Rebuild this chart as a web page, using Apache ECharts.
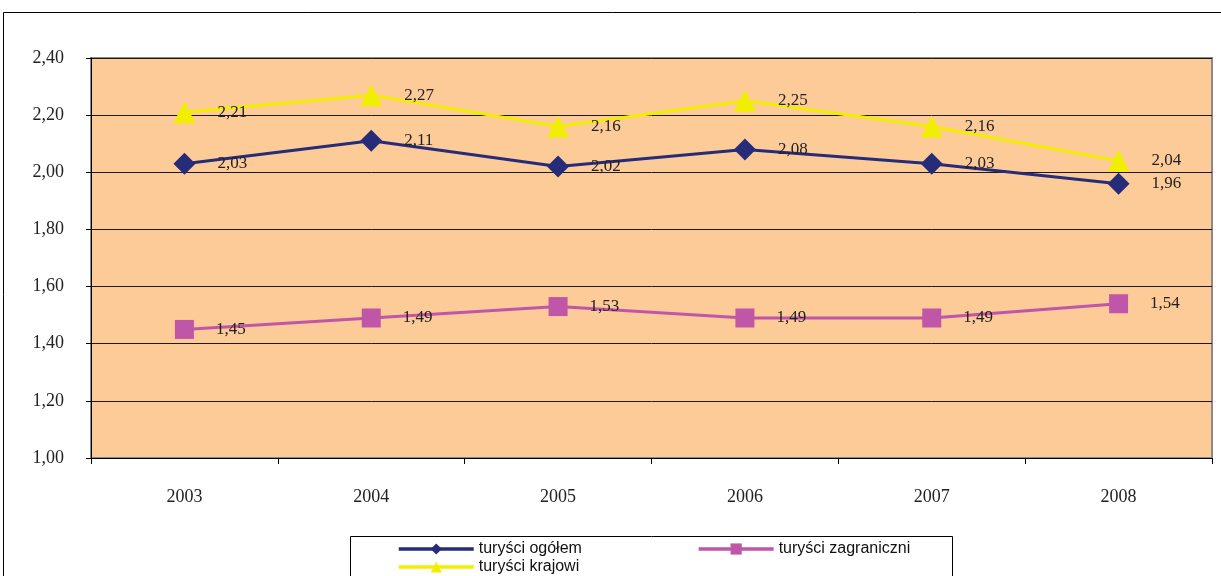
<!DOCTYPE html>
<html>
<head>
<meta charset="utf-8">
<script src="https://cdn.jsdelivr.net/npm/echarts@6/dist/echarts.min.js"></script>
<style>
  html, body { margin: 0; padding: 0; background: #fff; }
  #chart { width: 1221px; height: 576px; }
</style>
</head>
<body>
<div id="chart"></div>
<script>
// dane z wykresu
var years = ['2003', '2004', '2005', '2006', '2007', '2008'];
var ogolem = [2.03, 2.11, 2.02, 2.08, 2.03, 1.96];
var zagraniczni = [1.45, 1.49, 1.53, 1.49, 1.49, 1.54];
var krajowi = [2.21, 2.27, 2.16, 2.25, 2.16, 2.04];
var seriesNames = ['turyści ogółem', 'turyści zagraniczni', 'turyści krajowi'];

function fmt(v) {
    return v.toFixed(2).replace('.', ',');
}

var labelStyle = {
    show: true,
    position: 'right',
    distance: 22,
    fontFamily: 'Liberation Serif',
    fontSize: 17,
    color: '#222',
    formatter: function (p) { return fmt(p.value); }
};

var legendText = { fontFamily: 'Liberation Sans', fontSize: 16, color: '#111' };

var chart = echarts.init(document.getElementById('chart'));
chart.setOption({
    animation: false,
    backgroundColor: '#fff',
    graphic: [
        { type: 'rect', shape: { x: 3.5, y: 12.5, width: 1240, height: 600 },
          style: { fill: 'none', stroke: '#000', lineWidth: 1 }, z: -1 },
        { type: 'rect', shape: { x: 350.5, y: 536.5, width: 602, height: 60 },
          style: { fill: '#fff', stroke: '#000', lineWidth: 1 }, z: 0 }
    ],
    grid: {
        left: 91, right: 9, top: 58, bottom: 118,
        show: true,
        backgroundColor: '#FDCB98',
        borderColor: '#8a8a8a',
        borderWidth: 2
    },
    legend: [
        {
            data: [seriesNames[0], seriesNames[1]],
            left: 392, top: 536,
            itemWidth: 75, itemHeight: 14, itemGap: 115,
            lineStyle: { width: 3.5 },
            textStyle: legendText
        },
        {
            data: [seriesNames[2]],
            left: 392, top: 554,
            itemWidth: 75, itemHeight: 14,
            lineStyle: { width: 3.5 },
            textStyle: legendText
        }
    ],
    xAxis: {
        type: 'category',
        data: years,
        boundaryGap: true,
        axisLine: { lineStyle: { color: '#000', width: 1 } },
        axisTick: { show: true, length: 6, lineStyle: { color: '#000' } },
        axisLabel: { margin: 30, fontFamily: 'Liberation Serif', fontSize: 18, color: '#222' }
    },
    yAxis: {
        type: 'value',
        min: 1.0, max: 2.4, interval: 0.2,
        axisLine: { show: true, lineStyle: { color: '#000' } },
        axisTick: { show: true, length: 5, inside: false, lineStyle: { color: '#000' } },
        splitLine: { lineStyle: { color: '#1a1a1a', width: 1 } },
        axisLabel: {
            margin: 27, fontFamily: 'Liberation Serif', fontSize: 18, color: '#222',
            formatter: function (v) { return fmt(v); }
        }
    },
    series: [
        {
            name: seriesNames[0], type: 'line', data: ogolem,
            symbol: 'diamond', symbolSize: 22,
            lineStyle: { color: '#262C78', width: 3 },
            itemStyle: { color: '#262C78' },
            label: labelStyle, z: 3
        },
        {
            name: seriesNames[1], type: 'line', data: zagraniczni,
            symbol: 'rect', symbolSize: 19,
            lineStyle: { color: '#C056A8', width: 3 },
            itemStyle: { color: '#C056A8' },
            label: labelStyle, z: 2
        },
        {
            name: seriesNames[2], type: 'line', data: krajowi,
            symbol: 'triangle', symbolSize: 22,
            lineStyle: { color: '#F2EE00', width: 3 },
            itemStyle: { color: '#F2EE00' },
            label: labelStyle, z: 2
        }
    ]
});
</script>
</body>
</html>
